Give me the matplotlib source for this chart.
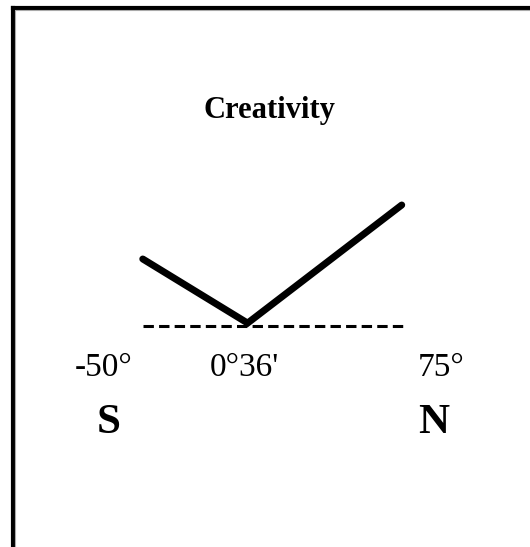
import matplotlib
matplotlib.use("Agg")
import matplotlib.pyplot as plt
from matplotlib.lines import Line2D

# latitude (degrees) vs creativity (relative units)
latitude = [-50, 0.6, 75]
creativity = [0.552, 0.02, 1.0]
baseline_x = [-50, 77.5]
baseline_y = [0, 0]
tick_labels = ["-50°", "0°36'", "75°"]
pole_labels = ["S", "N"]
title = "Creativity"

plt.rcParams["font.family"] = ["Liberation Serif", "DejaVu Serif"]

fig = plt.figure(figsize=(5.30, 5.47), dpi=100)
ax = fig.add_axes([0, 0, 1, 1])
ax.set_xlim(-118.9, 136.9)
ax.set_ylim(-1.838, 2.701)
ax.axis("off")

ax.plot(baseline_x, baseline_y, color="black", lw=2.2, dashes=(3.4, 1.7),
        dash_capstyle="butt")
ax.plot(latitude, creativity, color="black", lw=5, solid_capstyle="round",
        solid_joinstyle="miter")

W, H = 530, 547


def fx(px):
    return px / W


def fy(py):
    return 1 - py / H


ax.text(fx(269), fy(118), title, transform=ax.transAxes, ha="center",
        va="baseline", fontsize=22, fontweight="bold")

for label, px in zip(tick_labels, [104, 244, 441.5]):
    ax.text(fx(px), fy(376), label, transform=ax.transAxes, ha="center",
            va="baseline", fontsize=24)

for label, px in zip(pole_labels, [108.5, 434]):
    ax.text(fx(px), fy(433), label, transform=ax.transAxes, ha="center",
            va="baseline", fontsize=31, fontweight="bold")

# frame: only left and top edges are visible in the crop
fig.add_artist(Line2D([fx(12.5), fx(12.5)], [0, fy(7.5)], color="black",
                      lw=3, transform=fig.transFigure, solid_capstyle="projecting"))
fig.add_artist(Line2D([fx(12.5), 1], [fy(7.5), fy(7.5)], color="black",
                      lw=3, transform=fig.transFigure, solid_capstyle="projecting"))
fig.add_artist(Line2D([fx(15), fx(15), 1], [0, fy(10), fy(10)], color="#aaaaaa",
                      lw=0.8, transform=fig.transFigure))

fig.savefig("out.png", dpi=100)
